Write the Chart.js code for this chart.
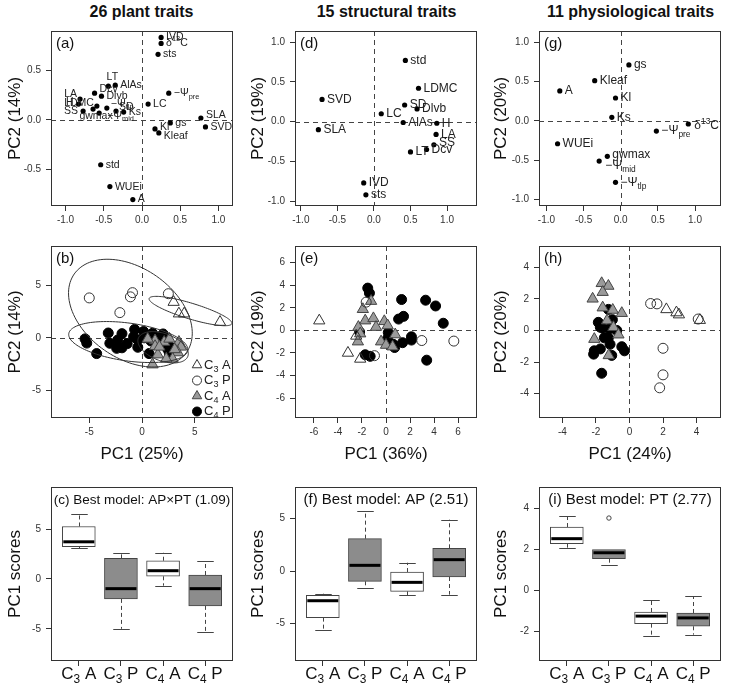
<!DOCTYPE html>
<html>
<head>
<meta charset="utf-8">
<script src="https://cdn.jsdelivr.net/npm/chart.js@4"></script>
<style>
body{margin:0;background:#fff;width:729px;height:684px;position:relative;overflow:hidden;font-family:"Liberation Sans",Arial,sans-serif}
.ttl{position:absolute;top:3px;width:243px;text-align:center;font-weight:bold;font-size:16px;color:#111}
canvas{position:absolute}
</style>
</head>
<body>
<div class="ttl" style="left:20px">26 plant traits</div>
<div class="ttl" style="left:265px">15 structural traits</div>
<div class="ttl" style="left:509px">11 physiological traits</div>

<script>
// ---- loadings (row 1) ----
const allTraits = ['IVD','δ^{13}C','sts','−Ψ_{pre}','LC','SLA','SVD','gs','Kl','Kleaf','AlAs','LT','Dcv','Dlvb','LA','H','LDMC','−Ψ_{tlp}','SS','gwmax','−Ψ_{mid}','SD','Ks','std','WUEi','A'];
const allPC1 = [0.25,0.25,0.21,0.35,0.08,0.77,0.83,0.37,0.17,0.22,-0.35,-0.44,-0.62,-0.53,-0.81,-0.83,-0.59,-0.46,-0.77,-0.64,-0.56,-0.34,-0.24,-0.54,-0.42,-0.12];
const allPC2 = [0.83,0.77,0.66,0.27,0.16,0.02,-0.07,-0.03,-0.09,-0.13,0.35,0.34,0.27,0.24,0.21,0.16,0.14,0.12,0.09,0.11,0.07,0.09,0.08,-0.45,-0.67,-0.8];

const strTraits = ['std','LDMC','SVD','SD','Dlvb','LC','AlAs','H','SLA','LA','SS','Dcv','LT','IVD','sts'];
const strPC1 = [0.43,0.61,-0.71,0.42,0.59,0.10,0.40,0.86,-0.76,0.85,0.82,0.72,0.50,-0.14,-0.11];
const strPC2 = [0.77,0.42,0.28,0.21,0.16,0.10,-0.01,-0.02,-0.10,-0.16,-0.29,-0.35,-0.38,-0.77,-0.92];

const phyTraits = ['gs','Kleaf','A','Kl','Ks','δ^{13}C','−Ψ_{pre}','WUEi','gwmax','−Ψ_{mid}','−Ψ_{tlp}'];
const phyPC1 = [0.11,-0.35,-0.82,-0.07,-0.12,0.91,0.48,-0.85,-0.18,-0.29,-0.07];
const phyPC2 = [0.71,0.51,0.38,0.29,0.045,-0.04,-0.13,-0.29,-0.45,-0.51,-0.78];

// ---- scores (row 2) ----
const groups = ['C_{3} A','C_{3} P','C_{4} A','C_{4} P'];

const b3Ax = [3.0,3.5,4.0,7.4];
const b3Ay = [3.4,2.3,2.3,1.5];
const b3Px = [-5.0,-0.9,-1.1,-2.1,2.5];
const b3Py = [3.8,4.3,3.9,2.4,4.2];
const b4Ax = [1.24,1.24,2.1,2.6,3.5,3.7,3.4,2.9,2.3,1.5,1.0,1.65,3.1,0.54];
const b4Ay = [-0.25,-0.8,-0.4,-0.1,-0.4,-0.86,-1.4,-2.0,-2.0,-1.6,-2.55,-0.86,-1.1,-0.1];
const b4Px = [-5.4,-5.24,-4.3,-3.2,-3.05,-2.3,-2.4,-1.9,-1.9,-1.4,-0.7,-0.4,-0.4,0.15,0.2,0.85,1.0,1.35,1.75,2.0,2.45,2.6,2.6,0.67,-0.8];
const b4Py = [-0.1,-0.5,-1.5,0.46,-0.52,-0.2,-1.0,0.4,-0.95,-0.55,0.8,-0.2,-0.9,0.6,0,-0.3,0.43,0,-0.5,0.37,-1.1,-0.8,-1.5,-1.5,0.1];
// ellipses in (b): centre, semi-axes, tilt (deg)
const ellCX = [-1.1,4.6,-1.3,2.0];
const ellCY = [2.35,2.55,-0.4,-0.9];
const ellA = [6.5,4.1,5.7,2.5];
const ellB = [4.3,0.75,1.8,1.3];
const ellAng = [-35,-17,-8,-20];

const e3Ax = [-5.56,-3.17,-2.15,-2.48];
const e3Ay = [0.86,-2.0,-2.53,-0.49];
const e3Px = [-1.65,-0.96,2.98,5.65];
const e3Py = [2.5,-2.24,-0.9,-0.95];
const e4Ax = [-1.93,-2.3,-2.15,-2.34,-1.73,-1.05,-0.83,-1.24,-0.14,-0.41,0,0.14,0.77,0.55];
const e4Ay = [1.87,0.29,-0.29,-1.0,0.86,1.06,0.29,2.59,0.8,-1.0,-1.3,0.43,-0.37,-1.44];
const e4Px = [-1.52,-1.38,-1.73,-1.32,0.19,0.14,1.3,1.05,1.46,0.6,0.72,1.38,2.12,2.12,3.3,4.13,4.77,3.39,-2.2];
const e4Py = [3.74,3.3,-2.16,-2.3,-0.2,-0.72,2.73,1.0,1.24,-1.24,-1.52,-1.09,-0.57,-0.86,2.67,2.16,0.63,-2.64,-0.14];

const h3Ax = [2.2,2.8,2.95,4.2];
const h3Ay = [1.33,1.13,1.0,0.65];
const h3Px = [1.26,1.64,2.0,2.0,1.8,4.1];
const h3Py = [1.7,1.68,-1.13,-2.81,-3.63,0.72];
const h4Ax = [-2.2,-1.66,-1.26,-1.6,-1.6,-1.0,-0.46,-1.34,-0.96,-0.66,-2.1,-1.24];
const h4Ay = [2.0,2.98,2.81,2.42,1.44,1.29,1.09,0.62,0.2,-0.27,-0.55,-1.58];
const h4Px = [-1.86,-1.74,-1.6,-1.26,-1.02,-1.2,-0.76,-1.5,-1.26,-1.16,-0.46,-0.3,-2.1,-2.14,-1.74,-1.06,-1.66];
const h4Py = [0.51,0.2,0.14,1.33,0.68,0.1,0,-0.47,-0.47,-0.88,-1.03,-1.29,-1.29,-1.5,-1.17,-1.58,-2.71];

// ---- PC1 boxplots (row 3) ----
const cMin = [3.1,-5.0,-0.67,-5.33];
const cQ1 = [3.23,-2.0,0.27,-2.7];
const cMed = [3.73,-0.97,0.83,-0.97];
const cQ3 = [5.27,2.07,1.83,0.4];
const cMax = [6.57,2.57,2.63,1.77];

const fMin = [-5.65,-1.62,-2.32,-2.25];
const fQ1 = [-4.44,-0.98,-1.94,-0.57];
const fMed = [-2.83,0.54,-1.08,1.08];
const fQ3 = [-2.32,3.08,-0.1,2.16];
const fMax = [-2.16,5.71,0.79,4.89];

const iMin = [2.09,1.26,-2.23,-2.17];
const iQ1 = [2.28,1.55,-1.63,-1.76];
const iMed = [2.53,1.84,-1.26,-1.35];
const iQ3 = [3.1,1.99,-1.06,-1.11];
const iMax = [3.64,1.99,-0.46,-0.28];
const iOutGroup = [2];
const iOutVal = [3.54];

// ---- layout ----
const FF = '"Liberation Sans", Arial, sans-serif';
Chart.defaults.font.family = FF;
const colLeft = [0,243,486];
const plotLeft = [51,295,539];
const plotW = 182;
const rows = [
  {top:20, h:215, pTop:28, pBot:206},
  {top:235, h:235, pTop:241, pBot:418},
  {top:470, h:214, pTop:487, pBot:661}
];
const groupStyle = [
  {ps:'triangle', r:6.5, bg:'rgba(0,0,0,0)', bd:'#333'},
  {ps:'circle', r:5, bg:'rgba(0,0,0,0)', bd:'#333'},
  {ps:'triangle', r:6.5, bg:'#9a9a9a', bd:'#444'},
  {ps:'circle', r:5, bg:'#000', bd:'#000'}
];
const labelOff = {
  a: {'LT':[4,-9,'center'],'Dcv':[5,-4],'LA':[-3,-5,'right'],'H':[-5,-2,'right'],'LDMC':[-3,-3,'right'],
      'SS':[-5,0,'right'],'−Ψ_{tlp}':[4,-4],'gwmax':[3,7,'center'],'−Ψ_{mid}':[8,3],'SD':[3,-4],
      'SLA':[5,-3],'Kl':[5,-2],'Kleaf':[5,3]},
  d: {'SS':[5,-2]},
  g: {'δ^{13}C':[6,2],'gwmax':[5,-2],'−Ψ_{mid}':[6,5]}
};

function parseRich(s){
  const out=[];const re=/([_^])\{([^}]*)\}/g;let last=0,m;
  while((m=re.exec(s))){ if(m.index>last) out.push([s.slice(last,m.index),0]); out.push([m[2],m[1]==='_'?1:-1]); last=re.lastIndex; }
  if(last<s.length) out.push([s.slice(last),0]);
  return out;
}
function drawRich(ctx,s,x,y,size,align,color){
  const parts=parseRich(s);
  ctx.save();ctx.fillStyle=color||'#222';ctx.textBaseline='middle';ctx.textAlign='left';
  const fonts=parts.map(p=>(p[1]?size*0.7:size)+'px '+FF);
  let w=0;parts.forEach((p,i)=>{ctx.font=fonts[i];w+=ctx.measureText(p[0]).width;});
  let cx=align==='right'?x-w:align==='center'?x-w/2:x;
  parts.forEach((p,i)=>{ctx.font=fonts[i];const dy=p[1]>0?size*0.32:p[1]<0?-size*0.38:0;ctx.fillText(p[0],cx,y+dy);cx+=ctx.measureText(p[0]).width;});
  ctx.restore();
}
function drawSym(ctx,st,x,y,r){
  ctx.save();ctx.fillStyle=st.bg;ctx.strokeStyle=st.bd;ctx.lineWidth=1;
  Chart.helpers.drawPoint(ctx,{pointStyle:st.ps,radius:r||st.r,rotation:0,borderWidth:1},x,y);
  ctx.restore();
}

function scaleOpts(axis,row,col,min,max,ticks,fmt,title,showLabels){
  const r=rows[row];
  return {
    type:'linear',min,max,offset:false,
    afterBuildTicks:s=>{s.ticks=ticks.map(v=>({value:v}));},
    afterFit:s=>{ if(axis==='x') s.height=r.top+r.h-r.pBot; else s.width=plotLeft[col]-colLeft[col]; },
    grid:{display:true,drawOnChartArea:false,drawTicks:true,tickLength:5,color:'#333',offset:false},
    border:{display:false},
    ticks:{display:showLabels!==false,font:{size:10},color:'#333',padding:axis==='x'?3:5,autoSkip:false,maxRotation:0,callback:fmt},
    title:title?{display:true,text:title,font:{size:17},color:'#111',padding:axis==='x'?{top:0,bottom:5}:{top:5,bottom:0}}:{display:false}
  };
}

function decor(opts){
  return {
    id:'decor',
    beforeDatasetsDraw(chart){
      const {ctx,chartArea:a,scales:{x,y}}=chart;
      if(opts.zero){
        ctx.save();ctx.setLineDash([5,4]);ctx.strokeStyle='#444';ctx.lineWidth=1;
        const zx=Math.round(x.getPixelForValue(0))+0.5, zy=Math.round(y.getPixelForValue(0))+0.5;
        ctx.beginPath();ctx.moveTo(zx,a.top);ctx.lineTo(zx,a.bottom);ctx.moveTo(a.left,zy);ctx.lineTo(a.right,zy);ctx.stroke();
        ctx.restore();
      }
      if(opts.before) opts.before(chart);
    },
    afterDatasetsDraw(chart){
      const {ctx,chartArea:a}=chart;
      if(opts.after) opts.after(chart);
      ctx.save();ctx.strokeStyle='#333';ctx.lineWidth=1;
      ctx.strokeRect(Math.round(a.left)+0.5,Math.round(a.top)+0.5,Math.round(a.width)-1,Math.round(a.height)-1);
      ctx.restore();
      if(opts.tag) drawRich(ctx,opts.tag,a.left+5,a.top+13,15,'left','#111');
      if(opts.heading) drawRich(ctx,opts.heading,(a.left+a.right)/2,a.top+13,opts.headSize||15,'center','#111');
      if(opts.catLabels){
        const x=chart.scales.x;
        opts.catLabels.forEach((g,i)=>drawRich(ctx,g,x.getPixelForValue(i+1),a.bottom+13,17,'center','#111'));
      }
    }
  };
}

function makeCanvas(row,col){
  const r=rows[row];const c=document.createElement('canvas');
  c.width=243;c.height=r.h;c.style.left=colLeft[col]+'px';c.style.top=r.top+'px';
  c.style.width='243px';c.style.height=r.h+'px';
  document.body.appendChild(c);return c;
}
function baseOpts(row,col,scales){
  const r=rows[row];
  return {
    responsive:false,animation:false,devicePixelRatio:1,events:[],
    layout:{padding:{top:r.pTop-r.top,right:colLeft[col]+243-(plotLeft[col]+plotW),left:0,bottom:0}},
    plugins:{legend:{display:false},tooltip:{enabled:false}},
    scales
  };
}
const f1 = v=>v.toFixed(1);
const f0 = v=>String(v);

// ---- row 1: loadings ----
function loadingPanel(col,names,pc1,pc2,xr,yr,yTicks,ytitle,tag,offs,fsize){
  const c=makeCanvas(0,col);
  const labels={
    after(chart){
      const {ctx,scales:{x,y}}=chart;
      names.forEach((n,i)=>{
        const o=offs[n]||[5,0,'left'];
        drawRich(ctx,n,x.getPixelForValue(pc1[i])+o[0],y.getPixelForValue(pc2[i])+o[1],fsize,o[2]||'left','#222');
      });
    }
  };
  new Chart(c,{
    type:'scatter',
    data:{datasets:[{data:pc1.map((v,i)=>({x:v,y:pc2[i]})),pointRadius:2.6,pointBackgroundColor:'#000',pointBorderWidth:0}]},
    options:baseOpts(0,col,{
      x:scaleOpts('x',0,col,xr[0],xr[1],[-1,-0.5,0,0.5,1],f1,null),
      y:scaleOpts('y',0,col,yr[0],yr[1],yTicks,f1,ytitle)
    }),
    plugins:[decor({zero:true,tag,after:labels.after})]
  });
}
loadingPanel(0,allTraits,allPC1,allPC2,[-1.19,1.19],[-0.865,0.895],[-0.5,0,0.5],'PC2 (14%)','(a)',labelOff.a,10.5);
loadingPanel(1,strTraits,strPC1,strPC2,[-1.08,1.41],[-1.06,1.14],[-1,-0.5,0,0.5,1],'PC2 (19%)','(d)',labelOff.d,12);
loadingPanel(2,phyTraits,phyPC1,phyPC2,[-1.10,1.35],[-1.08,1.14],[-1,-0.5,0,0.5,1],'PC2 (20%)','(g)',labelOff.g,12);

// ---- row 2: scores ----
function scorePanel(col,xs,ys,xr,yr,xT,yT,xtitle,ytitle,tag,extra){
  const c=makeCanvas(1,col);
  const order=[3,2,0,1];
  const ds=order.map(g=>({
    data:xs[g].map((v,i)=>({x:v,y:ys[g][i]})),
    pointStyle:groupStyle[g].ps,pointRadius:groupStyle[g].r,
    pointBackgroundColor:groupStyle[g].bg,pointBorderColor:groupStyle[g].bd,pointBorderWidth:1,
    order:order.length-order.indexOf(g)
  }));
  new Chart(c,{
    type:'scatter',
    data:{datasets:ds},
    options:baseOpts(1,col,{
      x:scaleOpts('x',1,col,xr[0],xr[1],xT,f0,xtitle),
      y:scaleOpts('y',1,col,yr[0],yr[1],yT,f0,ytitle)
    }),
    plugins:[decor(Object.assign({zero:true,tag},extra||{}))]
  });
}
const ellipses={
  after(chart){
    const {ctx,scales:{x,y}}=chart;
    ctx.save();ctx.strokeStyle='#333';ctx.lineWidth=1;
    ellCX.forEach((cx,k)=>{
      const t=ellAng[k]*Math.PI/180;ctx.beginPath();
      for(let s=0;s<=120;s++){
        const p=s/120*2*Math.PI;
        const dx=ellA[k]*Math.cos(p)*Math.cos(t)-ellB[k]*Math.sin(p)*Math.sin(t);
        const dy=ellA[k]*Math.cos(p)*Math.sin(t)+ellB[k]*Math.sin(p)*Math.cos(t);
        const px=x.getPixelForValue(cx+dx),py=y.getPixelForValue(ellCY[k]+dy);
        if(s===0)ctx.moveTo(px,py);else ctx.lineTo(px,py);
      }
      ctx.stroke();
    });
    ctx.restore();
    const a=chart.chartArea;
    groups.forEach((g,i)=>{
      const yy=a.bottom-53+i*15.5;
      drawSym(ctx,groupStyle[i],a.right-36,yy,groupStyle[i].ps==='triangle'?5.5:4.5);
      drawRich(ctx,g,a.right-29,yy,13,'left','#222');
    });
  }
};
scorePanel(0,[b3Ax,b3Px,b4Ax,b4Px],[b3Ay,b3Py,b4Ay,b4Py],[-8.63,8.63],[-7.63,8.74],[-5,0,5],[-5,0,5],'PC1 (25%)','PC2 (14%)','(b)',{after:ellipses.after});
scorePanel(1,[e3Ax,e3Px,e4Ax,e4Px],[e3Ay,e3Py,e4Ay,e4Py],[-7.58,7.58],[-7.76,7.47],[-6,-4,-2,0,2,4,6],[-6,-4,-2,0,2,4,6],'PC1 (36%)','PC2 (19%)','(e)');
scorePanel(2,[h3Ax,h3Px,h4Ax,h4Px],[h3Ay,h3Py,h4Ay,h4Py],[-5.4,5.46],[-5.54,5.34],[-4,-2,0,2,4],[-4,-2,0,2,4],'PC1 (24%)','PC2 (20%)','(h)');

// ---- row 3: boxplots ----
const boxFill=['#ffffff','#8c8c8c','#ffffff','#8c8c8c'];
function boxPanel(col,mn,q1,md,q3,mx,yr,yT,heading,headSize,outG,outV){
  const c=makeCanvas(2,col);
  const half=16.5, cap=8.25;
  const ds=[{
    type:'bar',
    data:q1.map((v,i)=>({x:i+1,y:[v,q3[i]]})),
    backgroundColor:boxFill,borderColor:'#444',borderWidth:1,borderSkipped:false,
    barThickness:33,grouped:false,order:2
  }];
  if(outG) ds.push({type:'scatter',data:outG.map((g,i)=>({x:g,y:outV[i]})),pointRadius:2.2,pointBackgroundColor:'rgba(0,0,0,0)',pointBorderColor:'#444',pointBorderWidth:1,order:1});
  new Chart(c,{
    type:'bar',
    data:{datasets:ds},
    options:baseOpts(2,col,{
      x:scaleOpts('x',2,col,0.34,4.66,[1,2,3,4],f0,null,false),
      y:scaleOpts('y',2,col,yr[0],yr[1],yT,f0,'PC1 scores')
    }),
    plugins:[decor({heading,headSize,catLabels:groups,
      before(chart){
        const {ctx,scales:{x,y}}=chart;
        ctx.save();ctx.strokeStyle='#444';ctx.lineWidth=1;
        mn.forEach((v,i)=>{
          const px=Math.round(x.getPixelForValue(i+1))+0.5;
          ctx.setLineDash([4,3]);ctx.beginPath();
          ctx.moveTo(px,y.getPixelForValue(q3[i]));ctx.lineTo(px,y.getPixelForValue(mx[i]));
          ctx.moveTo(px,y.getPixelForValue(q1[i]));ctx.lineTo(px,y.getPixelForValue(v));ctx.stroke();
          ctx.setLineDash([]);ctx.beginPath();
          const yt=Math.round(y.getPixelForValue(mx[i]))+0.5, yb=Math.round(y.getPixelForValue(v))+0.5;
          ctx.moveTo(px-cap,yt);ctx.lineTo(px+cap,yt);ctx.moveTo(px-cap,yb);ctx.lineTo(px+cap,yb);ctx.stroke();
        });
        ctx.restore();
      },
      after(chart){
        const {ctx,scales:{x,y}}=chart;
        ctx.save();ctx.strokeStyle='#000';ctx.lineWidth=3;
        md.forEach((v,i)=>{
          const px=x.getPixelForValue(i+1),py=y.getPixelForValue(v);
          ctx.beginPath();ctx.moveTo(px-half+1,py);ctx.lineTo(px+half-1,py);ctx.stroke();
        });
        ctx.restore();
      }
    })]
  });
}
boxPanel(0,cMin,cQ1,cMed,cQ3,cMax,[-8.23,9.23],[-5,0,5],'(c) Best model: AP×PT (1.09)',13.5);
boxPanel(1,fMin,fQ1,fMed,fQ3,fMax,[-8.57,8.0],[-5,0,5],'(f) Best model: AP (2.51)',15);
boxPanel(2,iMin,iQ1,iMed,iQ3,iMax,[-3.46,5.06],[-2,0,2,4],'(i) Best model: PT (2.77)',15,iOutGroup,iOutVal);
</script>
</body>
</html>
